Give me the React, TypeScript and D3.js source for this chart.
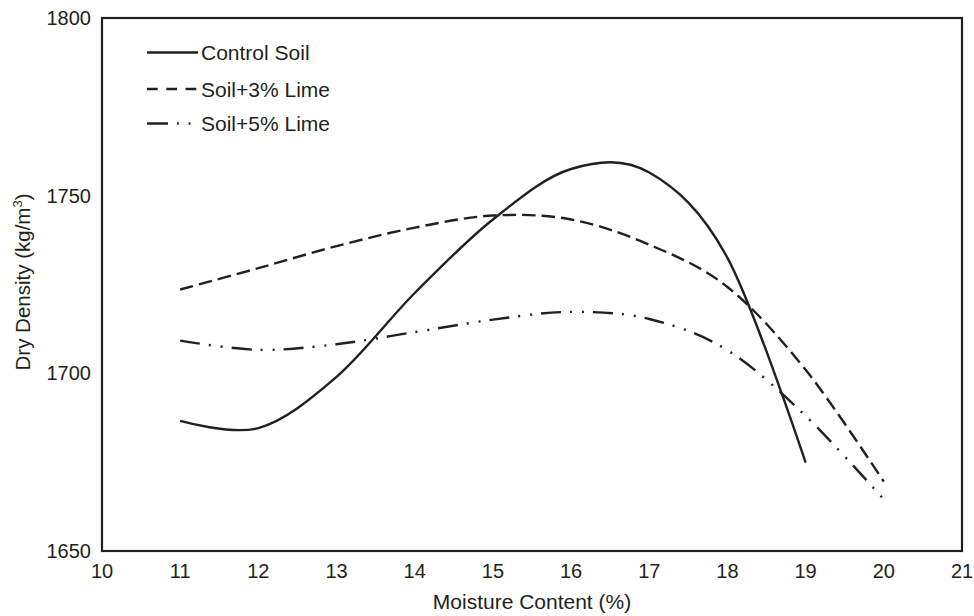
import React from 'react';
import * as d3 from 'd3';

const xTicks = [10, 11, 12, 13, 14, 15, 16, 17, 18, 19, 20, 21];
const yTicks = [1650, 1700, 1750, 1800];
const seriesNames = ['Control Soil', 'Soil+3% Lime', 'Soil+5% Lime'];

const controlX = [11, 12, 13, 14, 15, 16, 17, 18, 19];
const controlY = [1686.6, 1684.6, 1699.0, 1722.6, 1743.3, 1757.5, 1756.5, 1732.5, 1674.9];

const lime3X = [11, 12, 13, 14, 15, 16, 17, 18, 19, 20];
const lime3Y = [1723.6, 1729.6, 1735.8, 1741.0, 1744.4, 1743.3, 1736.2, 1724.3, 1701.0, 1669.5];

const lime5X = [11, 12, 13, 14, 15, 16, 17, 18, 19, 20];
const lime5Y = [1709.2, 1706.6, 1708.2, 1711.6, 1715.1, 1717.3, 1715.3, 1706.5, 1688.0, 1664.5];

const W = 974;
const H = 616;
const left = 102;
const right = 962;
const top = 18;
const bottom = 551;
const ink = '#231f20';
const font = '"Liberation Sans", Arial, Helvetica, sans-serif';

const dashes = ['none', '13.5 6', '20 9 2 10 2 9'];
const legendDashes = ['none', '10.7 8.6', '21 9 1.8 9.8 1.8 40'];

export default function App() {
  const x = d3.scaleLinear().domain([10, 21]).range([left, right]);
  const y = d3.scaleLinear().domain([1650, 1800]).range([bottom, top]);

  const line = d3
    .line<[number, number]>()
    .x((d) => x(d[0]))
    .y((d) => y(d[1]))
    .curve(d3.curveCardinal.tension(0));

  const series = [
    d3.zip(controlX, controlY) as [number, number][],
    d3.zip(lime3X, lime3Y) as [number, number][],
    d3.zip(lime5X, lime5Y) as [number, number][],
  ];

  const legendY = [52.5, 89, 123.5];

  return (
    <svg
      width={W}
      height={H}
      style={{ position: 'absolute', left: 0, top: 0, display: 'block', background: '#fff' }}
      fontFamily={font}
    >
      <rect x={0} y={0} width={W} height={H} fill="#fff" />
      {series.map((pts, i) => (
        <path
          key={i}
          d={line(pts) || ''}
          fill="none"
          stroke={ink}
          strokeWidth={2.4}
          strokeDasharray={dashes[i]}
        />
      ))}
      <rect
        x={left}
        y={top}
        width={right - left}
        height={bottom - top}
        fill="none"
        stroke={ink}
        strokeWidth={2.2}
      />
      {xTicks.map((t) => (
        <text key={t} x={x(t)} y={578} textAnchor="middle" fontSize={20} fill={ink}>
          {t}
        </text>
      ))}
      {yTicks.map((t) => (
        <text key={t} x={91} y={y(t) + 7} textAnchor="end" fontSize={20} fill={ink}>
          {t}
        </text>
      ))}
      <text x={532} y={609} textAnchor="middle" fontSize={21} fill={ink}>
        Moisture Content (%)
      </text>
      <text
        transform={`translate(30, 282) rotate(-90)`}
        textAnchor="middle"
        fontSize={20.5}
        fill={ink}
      >
        Dry Density (kg/m
        <tspan fontSize={13} dy={-8}>
          3
        </tspan>
        <tspan dy={8}>)</tspan>
      </text>
      {seriesNames.map((name, i) => (
        <g key={name}>
          <line
            x1={147}
            x2={198}
            y1={legendY[i]}
            y2={legendY[i]}
            stroke={ink}
            strokeWidth={2.4}
            strokeDasharray={legendDashes[i]}
          />
          <text x={201} y={legendY[i] + 7.5} fontSize={21} fill={ink}>
            {name}
          </text>
        </g>
      ))}
    </svg>
  );
}
